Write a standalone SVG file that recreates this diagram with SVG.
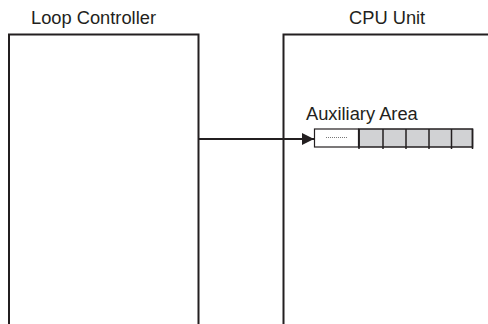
<svg xmlns="http://www.w3.org/2000/svg" width="488" height="324" viewBox="0 0 488 324">
<style>
text{font-family:"Liberation Sans",Arial,sans-serif;font-size:18.3px;fill:#231f20}
.box{fill:none;stroke:#231f20;stroke-width:2}
.cell{fill:#d1d2d4;stroke:#231f20;stroke-width:1.5}
.w{fill:#fff;stroke:#231f20;stroke-width:1.2}
</style>
<defs>
<marker id="ah" viewBox="0 0 10 10" refX="10" refY="5" markerWidth="12" markerHeight="12" markerUnits="userSpaceOnUse" orient="auto">
<path d="M0,0 L10,5 L0,10 z" fill="#231f20"/>
</marker>
</defs>
<rect width="488" height="324" fill="#fff"/>
<g id="loop-controller">
<text x="31" y="24">Loop Controller</text>
<path class="box" d="M9,324 V34.5 H198.5 V324"/>
</g>
<g id="cpu-unit">
<text x="349" y="24">CPU Unit</text>
<path class="box" d="M283.5,324 V34.5 H488"/>
</g>
<g id="auxiliary-area">
<text x="306" y="120">Auxiliary Area</text>
<rect class="w" x="314.5" y="129" width="44" height="18"/>
<line x1="326" y1="137.5" x2="348" y2="137.5" stroke="#555" stroke-width="0.8" stroke-dasharray="1,1"/>
<rect class="cell" x="359" y="129" width="113.5" height="18"/>
<g stroke="#231f20" stroke-width="1.5">
<line x1="359" y1="129" x2="359" y2="149"/>
<line x1="383" y1="129" x2="383" y2="149"/>
<line x1="406" y1="129" x2="406" y2="149"/>
<line x1="429" y1="129" x2="429" y2="149"/>
<line x1="451.5" y1="129" x2="451.5" y2="149"/>
<line x1="472.5" y1="129" x2="472.5" y2="149"/>
</g>
</g>
<g id="connectors">
<line x1="198.5" y1="139" x2="314" y2="139" stroke="#231f20" stroke-width="2" marker-end="url(#ah)"/>
</g>
</svg>
